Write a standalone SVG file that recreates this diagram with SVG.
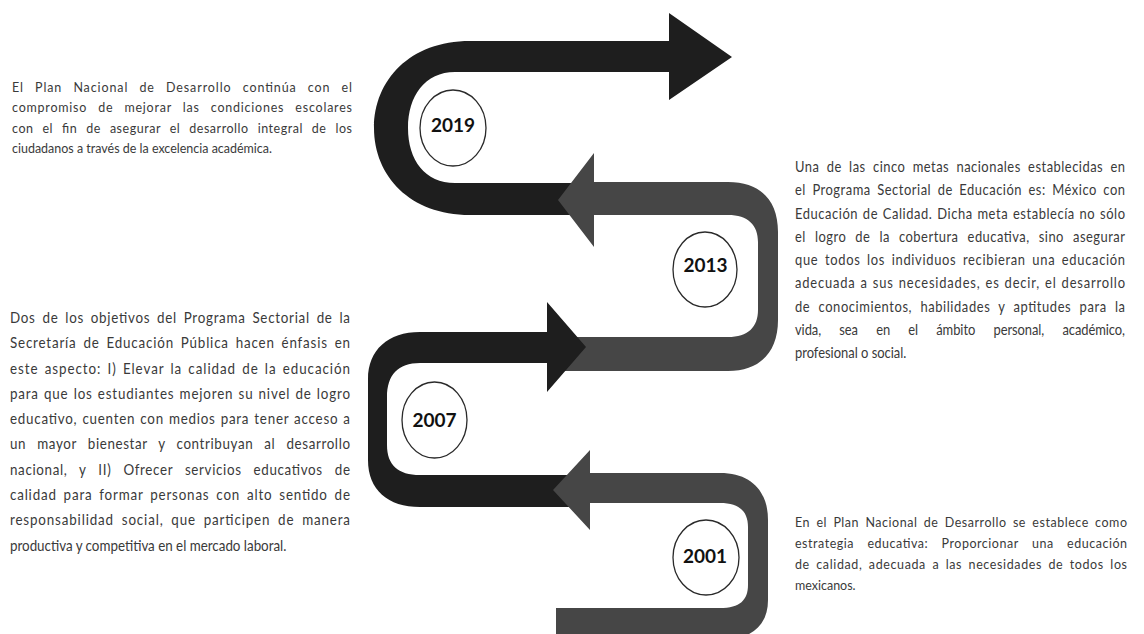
<svg xmlns="http://www.w3.org/2000/svg" width="1144" height="634" viewBox="0 0 1144 634">
<style>
.dark{fill:#1e1e1e}
.gray{fill:#464646}
.yr{fill:#fff;stroke:#2a2a2a;stroke-width:1.3}
.yt{font-family:Lato,"Open Sans",sans-serif;font-weight:700;font-size:19px;fill:#111;text-anchor:middle}
.p{font-family:Lato,"Noto Sans",sans-serif;font-size:14.2px;fill:#3a3a3a}
.p2{font-size:15.2px}
.p3{font-size:14.7px}
</style>
<rect width="1144" height="634" fill="#fff"/>
<g id="connectors">
<path class="dark" d="M585 183 L455 183 C425 183 408 160 408 128 C408 96 425 72 455 72 L669 72 L669 100 L732 57 L669 13 L669 41 L470 41 C410 41 374 80 374 128 C374 176 410 215 470 215 L585 215 Z"/>
<path class="gray" d="M560 371 L728 371 C760 371 778 352 778 320 L778 232 C778 200 760 182 728 182 L594 182 L594 153 L558 200 L594 247 L594 215 L728 215 C748 215 758 225 758 242 L758 310 C758 327 748 337 728 337 L560 337 Z"/>
<path class="dark" d="M590 507 L420 507 C388 507 368 490 368 460 L368 379 C368 350 388 332 420 332 L547 332 L547 302 L586 347 L547 392 L547 363 L420 363 C398 363 387 375 387 397 L387 445 C387 465 398 475 420 475 L590 475 Z"/>
<path class="gray" d="M556 608 L720 608 C740 608 748 600 748 585 L748 527 C748 512 740 503 720 503 L590 503 L590 530 L553 490 L590 450 L590 473 L720 473 C752 473 768 492 768 520 L768 600 C768 625 752 640 720 640 L556 640 Z"/>
</g>
<g id="node-2019"><ellipse class="yr" cx="453" cy="128" rx="33" ry="38"/><text class="yt" x="453" y="132">2019</text></g>
<g id="node-2013"><ellipse class="yr" cx="705" cy="269.5" rx="32" ry="37.5"/><text class="yt" x="705.5" y="272">2013</text></g>
<g id="node-2007"><ellipse class="yr" cx="434.5" cy="420" rx="32.5" ry="38"/><text class="yt" x="434.5" y="427">2007</text></g>
<g id="node-2001"><ellipse class="yr" cx="706" cy="557.5" rx="33" ry="37.5"/><text class="yt" x="705" y="563">2001</text></g>
<g id="text-2019" class="p" transform="scale(0.88,1)">
<text x="13.64" y="92" textLength="386.36" lengthAdjust="spacing" word-spacing="8">El Plan Nacional de Desarrollo continúa con el</text>
<text x="13.64" y="112.5" textLength="386.36" lengthAdjust="spacing" word-spacing="8">compromiso de mejorar las condiciones escolares</text>
<text x="13.64" y="133" textLength="386.36" lengthAdjust="spacing" word-spacing="6">con el fin de asegurar el desarrollo integral de los</text>
<text x="13.64" y="153.5">ciudadanos a través de la excelencia académica.</text>
</g>
<g id="text-2007" class="p p2" transform="scale(0.88,1)">
<text x="11.36" y="323" textLength="386.36" lengthAdjust="spacing" word-spacing="3">Dos de los objetivos del Programa Sectorial de la</text>
<text x="11.36" y="348.3" textLength="386.36" lengthAdjust="spacing" word-spacing="3">Secretaría de Educación Pública hacen énfasis en</text>
<text x="11.36" y="373.6" textLength="386.36" lengthAdjust="spacing" word-spacing="2">este aspecto: I) Elevar la calidad de la educación</text>
<text x="11.36" y="398.9" textLength="386.36" lengthAdjust="spacing" word-spacing="1">para que los estudiantes mejoren su nivel de logro</text>
<text x="11.36" y="424.2" textLength="386.36" lengthAdjust="spacing" word-spacing="1">educativo, cuenten con medios para tener acceso a</text>
<text x="11.36" y="449.5" textLength="386.36" lengthAdjust="spacing" word-spacing="8">un mayor bienestar y contribuyan al desarrollo</text>
<text x="11.36" y="474.8" textLength="386.36" lengthAdjust="spacing" word-spacing="9">nacional, y II) Ofrecer servicios educativos de</text>
<text x="11.36" y="500.1" textLength="386.36" lengthAdjust="spacing" word-spacing="3">calidad para formar personas con alto sentido de</text>
<text x="11.36" y="525.4" textLength="386.36" lengthAdjust="spacing" word-spacing="4">responsabilidad social, que participen de manera</text>
<text x="11.36" y="550.7">productiva y competitiva en el mercado laboral.</text>
</g>
<g id="text-2013" class="p p3" transform="scale(0.88,1)">
<text x="903.41" y="172" textLength="375" lengthAdjust="spacing" word-spacing="4">Una de las cinco metas nacionales establecidas en</text>
<text x="903.41" y="195.3" textLength="375" lengthAdjust="spacing" word-spacing="3">el Programa Sectorial de Educación es: México con</text>
<text x="903.41" y="218.6" textLength="375" lengthAdjust="spacing" word-spacing="1">Educación de Calidad. Dicha meta establecía no sólo</text>
<text x="903.41" y="241.9" textLength="375" lengthAdjust="spacing" word-spacing="6">el logro de la cobertura educativa, sino asegurar</text>
<text x="903.41" y="265.2" textLength="375" lengthAdjust="spacing" word-spacing="3">que todos los individuos recibieran una educación</text>
<text x="903.41" y="288.5" textLength="375" lengthAdjust="spacing" word-spacing="1">adecuada a sus necesidades, es decir, el desarrollo</text>
<text x="903.41" y="311.8" textLength="375" lengthAdjust="spacing" word-spacing="5">de conocimientos, habilidades y aptitudes para la</text>
<text x="903.41" y="335.1" textLength="375" lengthAdjust="spacing" word-spacing="17">vida, sea en el ámbito personal, académico,</text>
<text x="903.41" y="358.4">profesional o social.</text>
</g>
<g id="text-2001" class="p" transform="scale(0.88,1)">
<text x="903.41" y="527" textLength="377.27" lengthAdjust="spacing" word-spacing="3">En el Plan Nacional de Desarrollo se establece como</text>
<text x="903.41" y="548" textLength="377.27" lengthAdjust="spacing" word-spacing="11">estrategia educativa: Proporcionar una educación</text>
<text x="903.41" y="569" textLength="377.27" lengthAdjust="spacing" word-spacing="3">de calidad, adecuada a las necesidades de todos los</text>
<text x="903.41" y="590">mexicanos.</text>
</g>
</svg>
